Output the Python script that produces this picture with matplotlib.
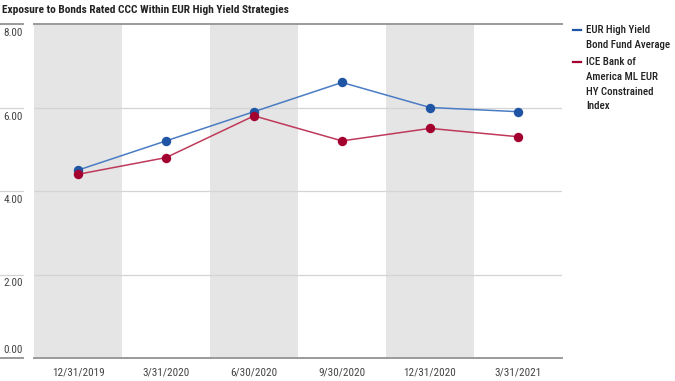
import matplotlib

matplotlib.use("Agg")
import matplotlib.pyplot as plt
from matplotlib.lines import Line2D

plt.rcParams["font.family"] = ["Roboto Condensed", "DejaVu Sans"]

TITLE = "Exposure to Bonds Rated CCC Within EUR High Yield Strategies"
DATES = ["12/31/2019", "3/31/2020", "6/30/2020", "9/30/2020", "12/31/2020", "3/31/2021"]
FUND_AVG = [4.5, 5.2, 5.9, 6.6, 6.0, 5.9]
INDEX = [4.4, 4.8, 5.8, 5.2, 5.5, 5.3]
Y_TICKS = [0, 2, 4, 6, 8]
FUND_LABEL = "EUR High Yield\nBond Fund Average"
INDEX_LABEL = "ICE Bank of\nAmerica ML EUR\nHY Constrained\nIndex"

BLUE_DOT = "#1f55a4"
BLUE_LINE = "#4a7cc4"
RED_DOT = "#a3002f"
RED_LINE = "#bf3a5a"
BAND = "#e5e5e5"
GRID = "#d4d4d4"
AXIS = "#9a9a9a"
TEXT = "#444444"

W, H = 675, 381
fig = plt.figure(figsize=(W / 100, H / 100), dpi=100)
left, right, top, bottom = 34, 562, 24, 358
ax = fig.add_axes([left / W, 1 - bottom / H, (right - left) / W, (bottom - top) / H])

x = list(range(len(DATES)))
for i in x[::2]:
    ax.axvspan(i - 0.5, i + 0.5, color=BAND, lw=0, zorder=0)

for t in Y_TICKS[1:-1]:
    ax.axhline(t, color=GRID, lw=0.9, zorder=1)

ax.plot(x, FUND_AVG, color=BLUE_LINE, lw=1.1, zorder=3)
ax.plot(x, INDEX, color=RED_LINE, lw=1.1, zorder=3)
ax.scatter(x, FUND_AVG, s=46, color=BLUE_DOT, lw=0, zorder=4)
ax.scatter(x, INDEX, s=46, color=RED_DOT, lw=0, zorder=4)

ax.set_xlim(-0.5, len(DATES) - 0.5)
ax.set_ylim(Y_TICKS[0], Y_TICKS[-1])
ax.set_xticks(x)
ax.set_xticklabels(DATES, fontsize=8, color=TEXT)
ax.tick_params(axis="x", length=0, pad=7)
ax.set_yticks([])
for side in ("left", "right"):
    ax.spines[side].set_visible(False)
for side in ("top", "bottom"):
    ax.spines[side].set_color(AXIS)
    ax.spines[side].set_linewidth(1.4)

# y labels sit just under short rules left of the plot (0.00 sits above its rule)
for t in Y_TICKS:
    yfig = ax.transData.transform((0, t))[1] / H
    edge = t in (Y_TICKS[0], Y_TICKS[-1])
    fig.add_artist(Line2D([0, 23 / W], [yfig, yfig], color=AXIS if edge else GRID, lw=1.4 if edge else 0.9))
    if t == Y_TICKS[0]:
        fig.text(23 / W, yfig + 3 / H, f"{t:.2f}", ha="right", va="bottom", fontsize=8, color=TEXT)
    else:
        fig.text(23 / W, yfig - 4 / H, f"{t:.2f}", ha="right", va="top", fontsize=8, color=TEXT)

fig.text(2 / W, 1 - 10 / H, TITLE, ha="left", va="center", fontsize=8.2, fontweight="bold", color="#222222")

# legend
fig.add_artist(Line2D([573 / W, 581 / W], [1 - 30 / H] * 2, color=BLUE_DOT, lw=1.6))
fig.text(586 / W, 1 - 25 / H, FUND_LABEL, ha="left", va="top", fontsize=7.8, fontweight="medium",
         color="#222222", linespacing=1.6)
fig.add_artist(Line2D([573 / W, 581 / W], [1 - 62 / H] * 2, color=RED_DOT, lw=1.6))
fig.text(586 / W, 1 - 57 / H, INDEX_LABEL, ha="left", va="top", fontsize=7.8, fontweight="medium",
         color="#222222", linespacing=1.6)

fig.savefig("out.png", dpi=100)
